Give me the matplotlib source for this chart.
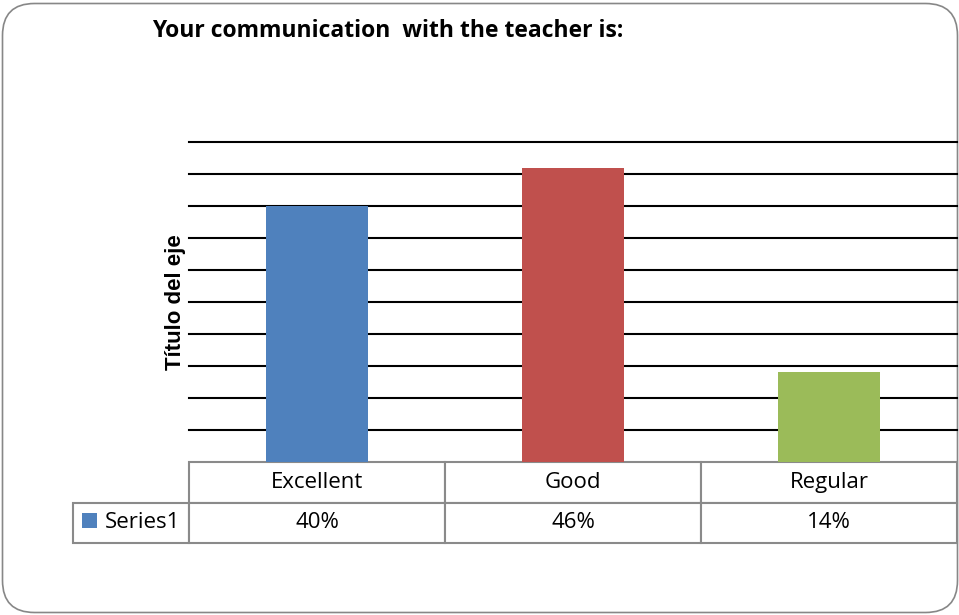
import matplotlib
matplotlib.use('Agg')
import matplotlib.pyplot as plt
from matplotlib.patches import FancyBboxPatch
from matplotlib.table import Table
import numpy as np

# Data
categories = ['Excellent', 'Good', 'Regular']
values = [0.40, 0.46, 0.14]
series_name = 'Series1'
bar_colors = ['#4F81BD', '#C0504D', '#9BBB59']
title = 'Your communication  with the teacher is:'
y_title = 'Título del eje'

W, H = 959, 615
fig = plt.figure(figsize=(W / 100, H / 100), dpi=100)
fig.patch.set_facecolor('white')

# Rounded chart frame (in inches so the corners stay round)
frame = FancyBboxPatch((0.025, 0.025), 9.55, 6.09,
                       boxstyle='round,pad=0,rounding_size=0.32',
                       transform=fig.dpi_scale_trans, facecolor='white',
                       edgecolor='#878787', linewidth=1.2, zorder=-10)
fig.patches.append(frame)

# Plot area
left, right, top, bottom = 189, 957, 142, 462
ax = fig.add_axes([left / W, 1 - bottom / H, (right - left) / W, (bottom - top) / H])
ax.set_facecolor('none')

x = np.arange(len(categories))
ax.bar(x, values, width=0.4, color=bar_colors, label=series_name, zorder=3)

ax.set_xlim(-0.5, len(categories) - 0.5)
ax.set_ylim(0, 0.5)
ax.set_yticks(np.arange(0.05, 0.501, 0.05))
ax.yaxis.grid(True, color='black', linewidth=1.5)
ax.set_axisbelow(True)
ax.tick_params(left=False, bottom=False, labelleft=False, labelbottom=False)
ax.set_xticks([])
for s in ax.spines.values():
    s.set_visible(False)
# keep the top gridline at full thickness
for gl in ax.get_ygridlines():
    gl.set_clip_on(False)

ax.set_ylabel(y_title, fontsize=16, fontweight='bold', family='Liberation Sans', labelpad=2)

# Data table under the plot (axes coordinates); the bbox only covers
# the category columns, the row-label cell hangs off to the left
table_left, table_bottom = 73, 543
row_w = (left - table_left) / (right - left)
row_h = (table_bottom - bottom) / (bottom - top) / 2
col_w = 1 / len(categories)
tbl = Table(ax, bbox=[0, -2 * row_h, 1, 2 * row_h])
for j, cat in enumerate(categories):
    tbl.add_cell(0, j, col_w, row_h, text=cat, loc='center')
    tbl.add_cell(1, j, col_w, row_h, text=f'{values[j]:.0%}', loc='center')
tbl.add_cell(1, -1, row_w, row_h, text='', loc='left')
tbl.auto_set_font_size(False)
for key, cell in tbl.get_celld().items():
    cell.set_edgecolor('#8a8a8a')
    cell.set_linewidth(1.5)
    cell.get_text().set_fontsize(16)
    cell.get_text().set_family('Open Sans')
ax.add_table(tbl)

# Legend key in the row-label cell
ax.legend(loc='center left', bbox_to_anchor=(-row_w + 0.012, -row_h * 1.5),
          frameon=False, prop={'family': 'Open Sans', 'size': 16},
          handlelength=0.65, handleheight=0.65, handletextpad=0.35,
          borderpad=0, borderaxespad=0)

fig.text(152 / W, 1 - 31 / H, title, fontsize=16.5, fontweight='bold',
         family='Open Sans', ha='left', va='center')

fig.savefig('out.png', dpi=100, facecolor='white')
plt.close(fig)
